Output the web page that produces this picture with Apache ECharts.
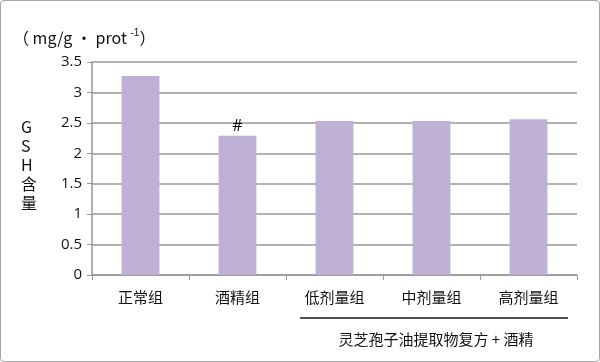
<!DOCTYPE html>
<html><head><meta charset="utf-8">
<script src="https://cdn.jsdelivr.net/npm/echarts@6/dist/echarts.min.js"></script>
<style>
html,body{margin:0;padding:0;background:#fff;}
#c{position:absolute;left:0;top:0;width:598px;height:360px;border:1px solid #a6a6a6;border-radius:4px;}
</style></head><body>
<div id="c"></div>
<script>
const categories = ['正常组','酒精组','低剂量组','中剂量组','高剂量组'];
const values = [3.27, 2.29, 2.53, 2.53, 2.56];
const marks = ['', '#', '', '', ''];
const yTicks = {min:0, max:3.5, interval:0.5};
const groupLabel = '灵芝孢子油提取物复方 + 酒精';

const font = '"Noto Sans CJK SC", "Liberation Sans", sans-serif';
const numFont = '"Open Sans", "Liberation Sans", sans-serif';
const chart = echarts.init(document.getElementById('c'));
chart.setOption({
  animation:false,
  grid:{left:91, right:22, top:61, bottom:86},
  xAxis:{type:'category', data:categories,
    axisLine:{lineStyle:{color:'#969696', width:1.5}},
    axisTick:{show:true, alignWithLabel:false, length:5, lineStyle:{color:'#969696'}},
    axisLabel:{color:'#111', fontSize:15, fontFamily:font, margin:15}
  },
  yAxis:{type:'value', min:yTicks.min, max:yTicks.max, interval:yTicks.interval,
    axisLine:{show:true, lineStyle:{color:'#969696', width:1.5}},
    axisTick:{show:true, length:5, lineStyle:{color:'#969696'}},
    axisLabel:{color:'#111', fontSize:15, fontFamily:numFont, margin:10},
    splitLine:{lineStyle:{color:'#999999', width:1.5}}
  },
  series:[{type:'bar', barWidth:'39%',
    data:values.map((v,i)=>({value:v, label:{show:!!marks[i], formatter:marks[i], position:'top', color:'#000', fontSize:16, distance:1, fontFamily:numFont}})),
    itemStyle:{color:'#BFB1D5'}
  }],
  graphic:[
    {type:'text', left:12, top:27, style:{
      text:'（ {a|mg/g · prot }{s|-1}{a|）}',
      rich:{a:{fontSize:16, fontFamily:font, fill:'#111'}, s:{fontSize:10, fill:'#111', verticalAlign:'top', padding:[0,0,9,0]}},
      fontSize:16, fontFamily:font, fill:'#111'}},
    {type:'text', left:20, top:116, style:{text:'G\nS\nH\n含\n量', fontSize:16, lineHeight:19, fontFamily:font, fill:'#111', align:'center'}},
    {type:'line', shape:{x1:299, y1:317, x2:567, y2:317}, style:{stroke:'#111', lineWidth:1.5}},
    {type:'text', x:435, y:338, style:{text:groupLabel, fontSize:15, fontFamily:font, fill:'#111', align:'center', verticalAlign:'middle'}}
  ]
});
</script></body></html>
